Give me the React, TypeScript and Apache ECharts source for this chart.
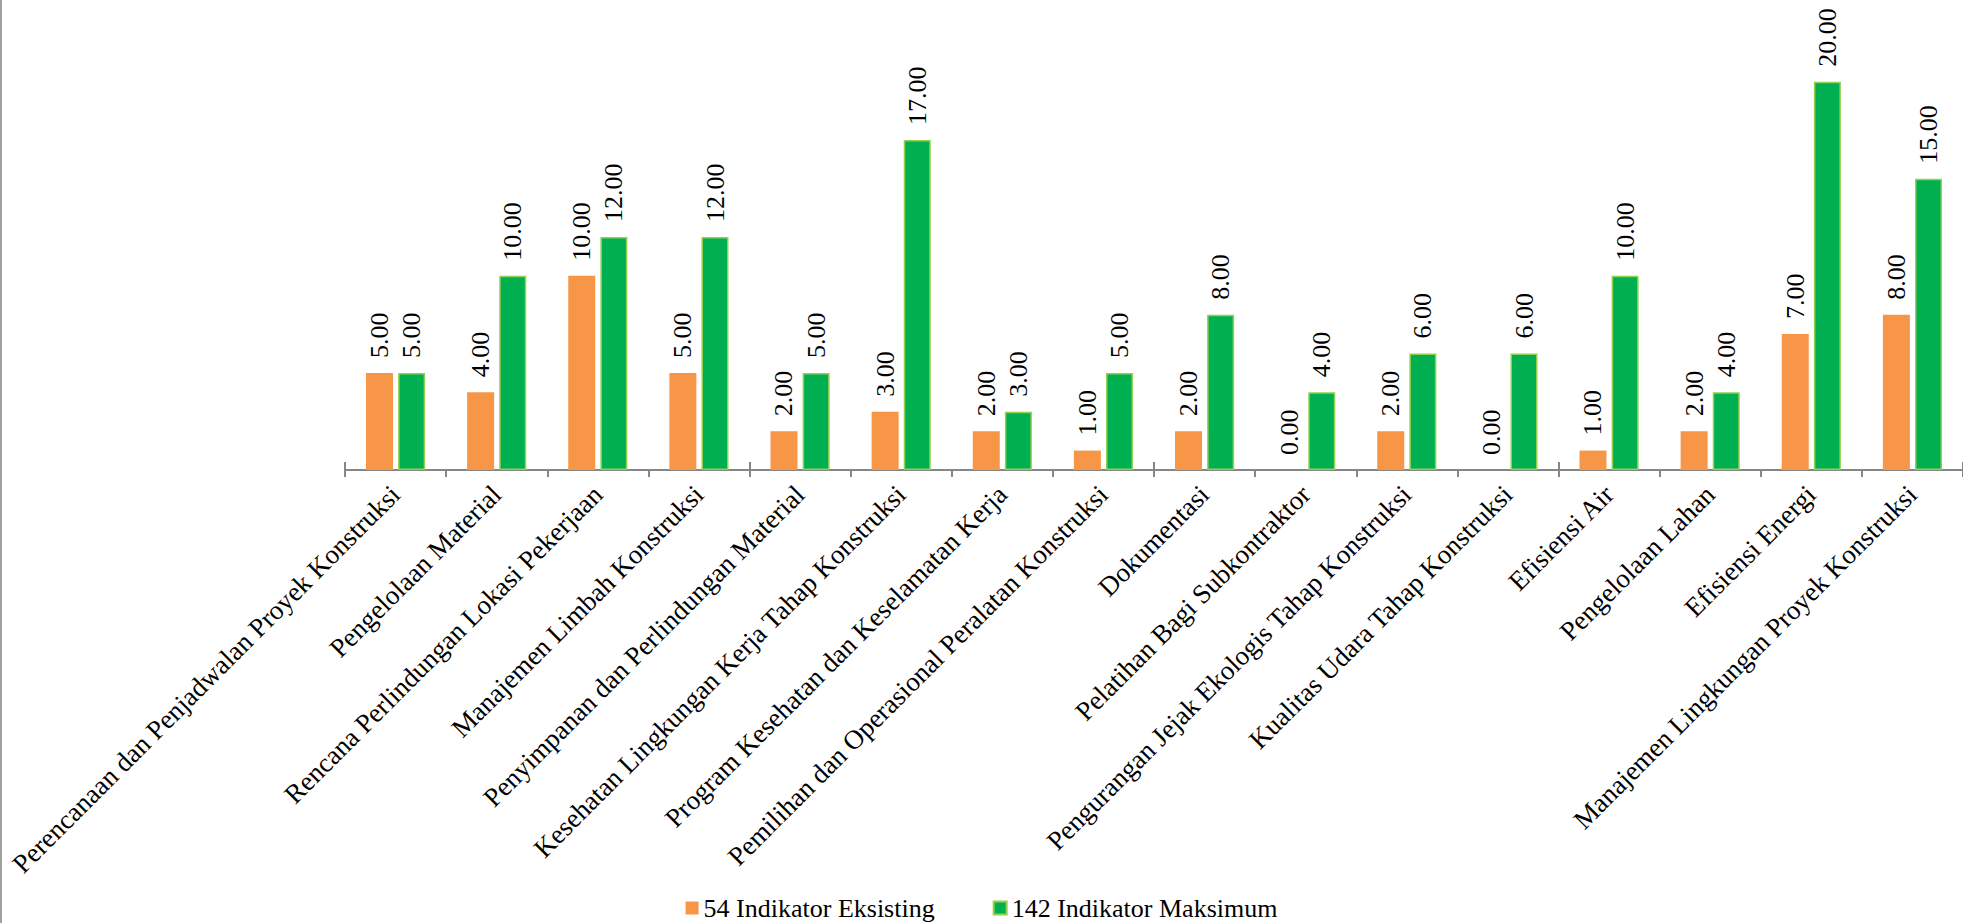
import React, { useEffect, useRef } from "react";
import * as echarts from "echarts";

const categories = [
  "Perencanaan dan Penjadwalan Proyek Konstruksi",
  "Pengelolaan Material",
  "Rencana Perlindungan Lokasi Pekerjaan",
  "Manajemen Limbah Konstruksi",
  "Penyimpanan dan Perlindungan Material",
  "Kesehatan Lingkungan Kerja Tahap Konstruksi",
  "Program Kesehatan dan Keselamatan Kerja",
  "Pemilihan dan Operasional Peralatan Konstruksi",
  "Dokumentasi",
  "Pelatihan Bagi Subkontraktor",
  "Pengurangan Jejak Ekologis Tahap Konstruksi",
  "Kualitas Udara Tahap Konstruksi",
  "Efisiensi Air",
  "Pengelolaan Lahan",
  "Efisiensi Energi",
  "Manajemen Lingkungan Proyek Konstruksi",
];

const existingName = "54 Indikator Eksisting";
const existingValues = [5, 4, 10, 5, 2, 3, 2, 1, 2, 0, 2, 0, 1, 2, 7, 8];

const maximumName = "142 Indikator Maksimum";
const maximumValues = [5, 10, 12, 12, 5, 17, 3, 5, 8, 4, 6, 6, 10, 4, 20, 15];

const FONT = "Liberation Serif";

export default function App() {
  const ref = useRef<HTMLDivElement>(null);

  useEffect(() => {
    if (!ref.current) return;
    const chart = echarts.init(ref.current, null, { renderer: "svg" });

    const valueLabel = () => ({
      show: true,
      position: "top",
      distance: 15,
      rotate: 90,
      align: "left",
      verticalAlign: "middle",
      fontSize: 26,
      fontFamily: FONT,
      fontWeight: "normal",
      color: "#000",
      formatter: (p: any) => Number(p.value).toFixed(2),
    });

    chart.setOption({
      animation: false,
      backgroundColor: "#fff",
      textStyle: { fontFamily: FONT },
      grid: { left: 345, top: 4, width: 1620, height: 466, containLabel: false },
      legend: {
        data: [existingName, maximumName],
        top: 890,
        left: "center",
        icon: "rect",
        itemWidth: 13,
        itemHeight: 13,
        itemGap: 58,
        textStyle: { fontSize: 26, fontFamily: FONT, color: "#000" },
      },
      xAxis: [
        {
          type: "category",
          data: categories,
          axisLine: { show: true, lineStyle: { color: "#868686", width: 2 } },
          axisTick: { show: true, length: 7, lineStyle: { color: "#868686", width: 2 } },
          axisLabel: {
            interval: 0,
            rotate: 45,
            margin: 20,
            fontSize: 27,
            fontFamily: FONT,
            color: "#000",
          },
        },
        {
          type: "category",
          data: categories,
          position: "bottom",
          axisLine: { show: false },
          axisTick: { show: true, inside: true, length: 8, lineStyle: { color: "#868686", width: 2 } },
          axisLabel: { show: false },
        },
      ],
      yAxis: {
        type: "value",
        min: 0,
        max: 24,
        show: false,
        splitLine: { show: false },
      },
      graphic: [
        {
          type: "line",
          shape: { x1: 1, y1: 0, x2: 1, y2: 923 },
          style: { stroke: "#a0a0a0", lineWidth: 2 },
        },
      ],
      series: [
        {
          name: existingName,
          type: "bar",
          data: existingValues,
          barWidth: 27,
          barGap: "19%",
          itemStyle: { color: "#F79646", borderWidth: 0 },
          label: valueLabel(),
        },
        {
          name: maximumName,
          type: "bar",
          data: maximumValues,
          barWidth: 27,
          itemStyle: { color: "#00B050", borderColor: "#92D050", borderWidth: 1.5 },
          label: valueLabel(),
        },
      ],
    });

    return () => chart.dispose();
  }, []);

  return (
    <div
      ref={ref}
      style={{ position: "fixed", left: 0, top: 0, width: 1963, height: 923, background: "#fff" }}
    />
  );
}
